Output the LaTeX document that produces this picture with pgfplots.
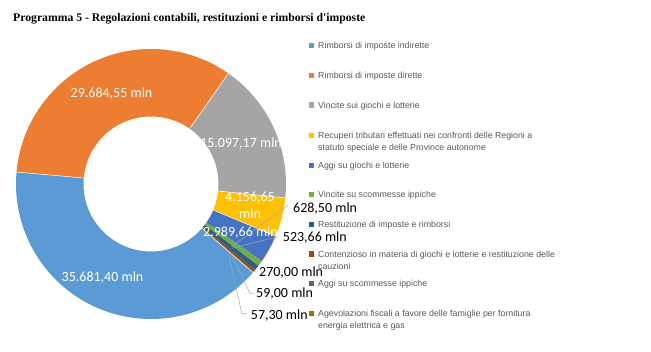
\documentclass[border=0pt]{standalone}
\usepackage{pgfplots}
\pgfplotsset{compat=1.18}
\usepackage{pgfplotstable}
\usepackage{fontspec}
\setmainfont{Liberation Sans}
\newfontfamily\labfont{Carlito}
\newfontfamily\titlefont{Liberation Serif}
\definecolor{cA}{HTML}{5B9BD5}
\definecolor{cB}{HTML}{ED7D31}
\definecolor{cC}{HTML}{A5A5A5}
\definecolor{cD}{HTML}{FFC000}
\definecolor{cE}{HTML}{4472C4}
\definecolor{cF}{HTML}{70AD47}
\definecolor{cG}{HTML}{255E91}
\definecolor{cH}{HTML}{9E480E}
\definecolor{cI}{HTML}{636363}
\definecolor{cJ}{HTML}{997300}
\definecolor{legtext}{HTML}{595959}
\definecolor{leader}{HTML}{A6A6A6}
\pgfplotstableread{
val
35681.40
29684.55
15097.17
4156.65
2989.66
628.50
523.66
270.00
59.00
57.30
}\datatable
\newcommand\startang{-41}
\newcommand\cx{151}
\newcommand\cy{167}
\newcommand\slice[3]{%
  \path[fill=#3] ([shift={(\csname ang#1\endcsname:135pt)}]axis cs:\cx,\cy)
    arc[start angle=\csname ang#1\endcsname, end angle=\csname ang#2\endcsname, radius=135pt]
    -- ([shift={(\csname ang#2\endcsname:67.5pt)}]axis cs:\cx,\cy)
    arc[start angle=\csname ang#2\endcsname, end angle=\csname ang#1\endcsname, radius=67.5pt]
    -- cycle;}
\newcommand\sep[1]{%
  \draw[white, line width=0.5pt] ([shift={(\csname ang#1\endcsname:67.5pt)}]axis cs:\cx,\cy)
    -- ([shift={(\csname ang#1\endcsname:135pt)}]axis cs:\cx,\cy);}
\newcommand\legfont{\fontsize{8.8}{10.5}\selectfont}
\newcommand\leg[3]{%
  \fill[#2] (axis cs:309,{351-#1-2.6}) rectangle (axis cs:314.2,{351-#1+2.6});
  \node[anchor=base west, inner sep=0pt, font=\legfont, text=legtext] at (axis cs:318,{351-#1-3.2}) {#3};}
\newcommand\legline[2]{%
  \node[anchor=base west, inner sep=0pt, font=\legfont, text=legtext] at (axis cs:318,{351-#1-3.2}) {#2};}
\newcommand\wlab[3]{%
  \node[anchor=base, inner sep=0pt, text=white, font=\labfont\fontsize{14}{16}\selectfont] at (axis cs:#1,{351-#2-4.6}) {#3};}
\newcommand\blab[3]{%
  \node[anchor=base west, inner sep=0pt, text=black, font=\labfont\fontsize{14}{16}\selectfont] at (axis cs:#1,{351-#2-4.6}) {#3};}
\begin{document}
\begin{tikzpicture}
\pgfkeys{/pgf/fpu=true, /pgf/fpu/output format=fixed}%
\xdef\total{0}%
\pgfplotstableforeachcolumnelement{val}\of\datatable\as\v{%
  \pgfmathsetmacro\tmp{\total+\v}\xdef\total{\tmp}}%
\xdef\cum{0}%
\expandafter\xdef\csname ang0\endcsname{\startang}%
\pgfplotstableforeachcolumnelement{val}\of\datatable\as\v{%
  \pgfmathsetmacro\tmp{\cum+\v}\xdef\cum{\tmp}%
  \pgfmathsetmacro\tmpa{\startang-360*(\cum/\total)}%
  \edef\nxt{\the\numexpr\pgfplotstablerow+1\relax}%
  \expandafter\xdef\csname ang\nxt\endcsname{\tmpa}}%
\pgfkeys{/pgf/fpu=false}%
\begin{axis}[scale only axis, width=651pt, height=351pt,
  xmin=0, xmax=651, ymin=0, ymax=351, hide axis, clip=false]
\path (rel axis cs:0,0) rectangle (rel axis cs:1,1);
\slice{0}{1}{cA}
\slice{1}{2}{cB}
\slice{2}{3}{cC}
\slice{3}{4}{cD}
\slice{4}{5}{cE}
\slice{5}{6}{cF}
\slice{6}{7}{cG}
\slice{7}{8}{cH}
\slice{8}{9}{cI}
\slice{9}{10}{cJ}
\sep{0}\sep{1}\sep{2}\sep{3}\sep{4}
% leader lines
\draw[leader, line width=0.5pt] (axis cs:288.3,{351-205}) -- (axis cs:231.7,{351-246.7});
\draw[leader, line width=0.5pt] (axis cs:278.3,{351-236.7}) -- (axis cs:231.7,{351-248.3});
\draw[leader, line width=0.5pt] (axis cs:230,{351-251.7}) -- (axis cs:250,{351-293.3}) -- (axis cs:253.5,{351-293.3});
\draw[leader, line width=0.5pt] (axis cs:228.3,{351-251.7}) -- (axis cs:241.7,{351-313.3}) -- (axis cs:247,{351-313.3});
% data labels
\wlab{102.5}{276.7}{35.681,40 mln}
\wlab{111.5}{92.7}{29.684,55 mln}
\wlab{241}{142.7}{15.097,17 mln}
\wlab{250}{197.3}{4.156,65}
\wlab{250}{214}{mln}
\wlab{240.5}{232}{2.989,66 mln}
\blab{293}{208.3}{628,50 mln}
\blab{282.7}{237.3}{523,66 mln}
\blab{259}{272.3}{270,00 mln}
\blab{256}{293.3}{59,00 mln}
\blab{250.7}{315}{57,30 mln}
% legend
\leg{45.7}{cA}{Rimborsi di imposte indirette}
\leg{75.4}{cB}{Rimborsi di imposte dirette}
\leg{105.1}{cC}{Vincite sui giochi e lotterie}
\leg{135.5}{cD}{Recuperi tributari effettuati nei confronti delle Regioni a}
\legline{147}{statuto speciale e delle Province autonome}
\leg{165.5}{cE}{Aggi su giochi e lotterie}
\leg{194.5}{cF}{Vincite su scommesse ippiche}
\leg{224.3}{cG}{Restituzione di imposte e rimborsi}
\leg{254}{cH}{Contenzioso in materia di giochi e lotterie e restituzione delle}
\legline{266}{cauzioni}
\leg{283.3}{cI}{Aggi su scommesse ippiche}
\leg{313.3}{cJ}{Agevolazioni fiscali a favore delle famiglie per fornitura}
\legline{325.5}{energia elettrica e gas}
% title
\node[anchor=base west, inner sep=0pt] at (axis cs:13,{351-21.5}) {\titlefont\bfseries\fontsize{11.7}{14}\selectfont Programma 5 - Regolazioni contabili, restituzioni e rimborsi d\textquotesingle imposte};
\end{axis}
\end{tikzpicture}
\end{document}
